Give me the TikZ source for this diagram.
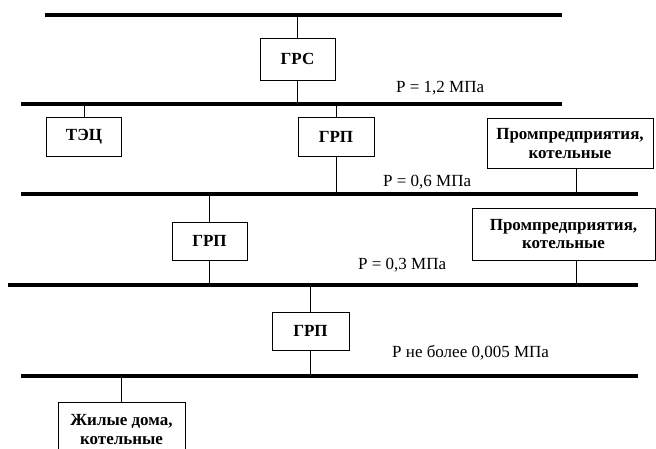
\documentclass[tikz,border=0pt]{standalone}
\usepackage{fontspec}
\setmainfont{Liberation Serif}
\usetikzlibrary{positioning}

\begin{document}
\begin{tikzpicture}[
  x=1pt, y=-1pt,
  line cap=butt,
  every node/.style={font=\fontsize{17}{19}\selectfont},
  box/.style={draw, line width=0.9pt, fill=white, align=center, inner sep=2pt, font=\fontsize{17}{18.5}\selectfont\bfseries},
  bus/.style={line width=3.2pt},
  link/.style={line width=0.9pt},
  plabel/.style={anchor=west, inner sep=0pt}
]
  % page frame, bottom box runs off the page
  \clip (0,0) rectangle (656,449);

  % gas lines (buses)
  \coordinate (b1w) at (45,15);  \coordinate (b1e) at (562,15);
  \coordinate (b2w) at (21,104); \coordinate (b2e) at (562,104);
  \coordinate (b3w) at (21,194); \coordinate (b3e) at (638,194);
  \coordinate (b4w) at (8,285);  \coordinate (b4e) at (638,285);
  \coordinate (b5w) at (21,376); \coordinate (b5e) at (638,376);
  \foreach \b in {1,...,5} {
    \draw[bus] (b\b w) -- (b\b e);
  }

  \node[box, minimum width=75pt, minimum height=42pt] (grs) at (297.5,59) {ГРС};
  \node[box, minimum width=75pt, minimum height=39pt] (tec) at (84,137) {ТЭЦ};
  \node[box, minimum width=76pt, minimum height=39pt] (grpA) at (336,137) {ГРП};
  \node[box, minimum width=166pt, minimum height=50pt] (promA) at (570,143.5) {Промпредприятия,\\котельные};
  \node[box, minimum width=183pt, minimum height=52pt] (promB) at (563.5,234) {Промпредприятия,\\котельные};
  \node[box, minimum width=75pt, minimum height=38pt] (grpB) at (209.5,241) {ГРП};
  \node[box, minimum width=77pt, minimum height=38pt] (grpC) at (310.5,331) {ГРП};
  \node[box, minimum width=127pt, minimum height=54pt, anchor=north] (homes) at (121.5,402) {Жилые дома,\\котельные};

  % pressure labels
  \node[plabel] (pA) at (396,88) {P = 1,2 МПа};
  \node[plabel] (pB) at (383,182) {P = 0,6 МПа};
  \node[plabel] (pC) at (358,265) {P = 0,3 МПа};
  \node[plabel] (pD) at (392,353) {P не более 0,005 МПа};

  % drops off the right-hand boxes
  \coordinate (promDropA) at (576,194);
  \coordinate (promDropB) at (576,285);

  \draw[link] (grs.north) -- (grs.north |- b1w);
  \draw[link] (grs.south) -- (grs.south |- b2w);
  \draw[link] (tec.north) -- (tec.north |- b2w);
  \draw[link] (grpA.north) -- (grpA.north |- b2w);
  \draw[link] (grpA.south) -- (grpA.south |- b3w);
  \draw[link] (promA.south -| promDropA) -- (promDropA);
  \draw[link] (grpB.north) -- (grpB.north |- b3w);
  \draw[link] (grpB.south) -- (grpB.south |- b4w);
  \draw[link] (promB.south -| promDropB) -- (promDropB);
  \draw[link] (grpC.north) -- (grpC.north |- b4w);
  \draw[link] (grpC.south) -- (grpC.south |- b5w);
  \draw[link] (homes.north) -- (homes.north |- b5w);
\end{tikzpicture}
\end{document}
